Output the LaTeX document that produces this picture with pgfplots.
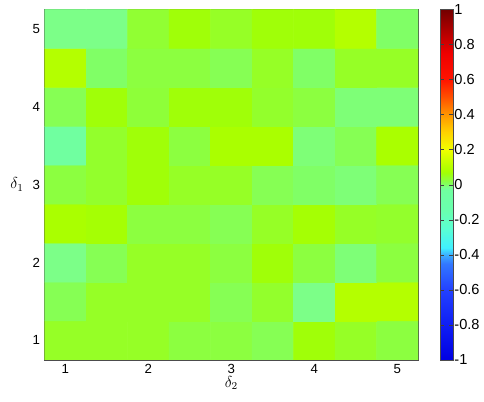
\documentclass[border=0pt]{standalone}
\usepackage{fontspec}
\setmainfont{Liberation Sans}
\usepackage{pgfplots}
\pgfplotsset{compat=1.18}
\usetikzlibrary{calc}
% jet-like map, positions are (v+1)*200 for v in [-1,1]
\pgfplotsset{colormap={refjet}{
  rgb255(0pt)=(0,0,225) rgb255(40pt)=(15,30,245) rgb255(80pt)=(35,65,255)
  rgb255(110pt)=(50,120,255) rgb255(120pt)=(60,175,255) rgb255(128pt)=(64,240,255)
  rgb255(150pt)=(90,255,210) rgb255(170pt)=(105,255,175) rgb255(194pt)=(112,255,160)
  rgb255(198pt)=(124,255,136) rgb255(200pt)=(128,255,102) rgb255(205pt)=(140,255,64)
  rgb255(209pt)=(150,255,38) rgb255(213pt)=(160,255,8) rgb255(216pt)=(170,255,0)
  rgb255(220pt)=(180,255,0) rgb255(240pt)=(240,255,0) rgb255(260pt)=(255,210,0)
  rgb255(280pt)=(255,150,0) rgb255(300pt)=(255,80,0) rgb255(320pt)=(255,20,0)
  rgb255(350pt)=(240,0,0) rgb255(370pt)=(190,0,0) rgb255(400pt)=(115,0,0)
}}
% cell values of the 9x9 map, rows at delta_1 = 1 ... 5, columns at delta_2 = 1 ... 5
\pgfplotstableread{
x y c
1 1 0.045
1.5 1 0.045
2 1 0.045
2.5 1 0.025
3 1 0.025
3.5 1 0.012
4 1 0.065
4.5 1 0.045
5 1 0.025
1 1.5 0.012
1.5 1.5 0.045
2 1.5 0.045
2.5 1.5 0.045
3 1.5 0.012
3.5 1.5 0.04
4 1.5 -0.01
4.5 1.5 0.1
5 1.5 0.1
1 2 -0.01
1.5 2 0.012
2 2 0.045
2.5 2 0.045
3 2 0.025
3.5 2 0.065
4 2 0.025
4.5 2 -0.005
5 2 0.025
1 2.5 0.08
1.5 2.5 0.072
2 2.5 0.025
2.5 2.5 0.025
3 2.5 0.012
3.5 2.5 0.045
4 2.5 0.072
4.5 2.5 0.045
5 2.5 0.04
1 3 0.025
1.5 3 0.04
2 3 0.065
2.5 3 0.045
3 3 0.045
3.5 3 0.012
4 3 0.0
4.5 3 -0.005
5 3 0.012
1 3.5 -0.03
1.5 3.5 0.04
2 3.5 0.065
2.5 3.5 0.025
3 3.5 0.08
3.5 3.5 0.08
4 3.5 -0.005
4.5 3.5 0.012
5 3.5 0.08
1 4 0.012
1.5 4 0.065
2 4 0.03
2.5 4 0.065
3 4 0.065
3.5 4 0.04
4 4 0.025
4.5 4 -0.005
5 4 -0.005
1 4.5 0.1
1.5 4.5 0.0
2 4.5 0.025
2.5 4.5 0.025
3 4.5 0.012
3.5 4.5 0.045
4 4.5 0.0
4.5 4.5 0.045
5 4.5 0.045
1 5 -0.01
1.5 5 -0.01
2 5 0.035
2.5 5 0.065
3 5 0.045
3.5 5 0.065
4 5 0.065
4.5 5 0.1
5 5 0.0
}\cells

\begin{document}
\begin{tikzpicture}
\begin{axis}[
  name=ax,
  scale only axis,
  width=282pt, height=264.75pt,
  xmin=0.75, xmax=5.25, ymin=0.75, ymax=5.25,
  xtick={1,2,3,4,5}, ytick={1,2,3,4,5},
  axis line style={black!70},
  tick style={black!75},
  tick align=inside,
  major tick length=4pt,
  font=\fontsize{10}{12}\selectfont,
  /pgf/number format/assume math mode=true,
  colormap name=refjet,
  point meta min=-1, point meta max=1,
  xlabel={$\delta_2$},
  ylabel={$\delta_1$},
  label style={font=\fontsize{12}{14}\selectfont},
  xlabel style={yshift=5pt},
  ylabel style={rotate=-90, xshift=0pt},
  colorbar,
  colorbar style={
    width=9.75pt,
    at={(parent axis.north east)}, anchor=north west, xshift=8.25pt,
    ytick={-1,-0.8,-0.6,-0.4,-0.2,0,0.2,0.4,0.6,0.8,1},
    yticklabel style={/pgf/number format/fixed,/pgf/number format/precision=1,
      font=\fontsize{11}{13}\selectfont, xshift=-2.5pt},
    /pgf/number format/assume math mode=true,
    major tick length=3pt,
    axis line style={black!70},
    tick style={black!75},
  },
]
\addplot[matrix plot*, mesh/cols=9, point meta=explicit]
  table[x=x, y=y, meta=c] {\cells};
\end{axis}
\path ($(ax.south west)+(-33.75pt,-31.5pt)$) rectangle ($(ax.north east)+(47.25pt,4.5pt)$);
\end{tikzpicture}
\end{document}
